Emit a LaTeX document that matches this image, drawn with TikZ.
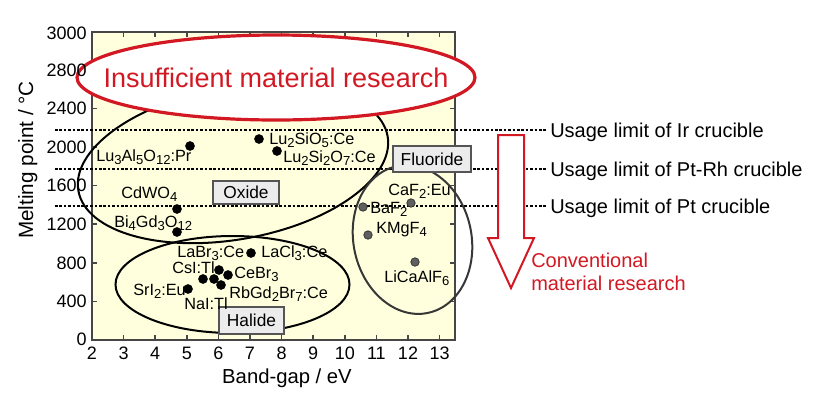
\documentclass[tikz,border=0pt]{standalone}
\usepackage{fontspec}
\setmainfont{Liberation Sans}
\newcommand{\lsub}[1]{\raisebox{-0.45ex}{\fontsize{9.8}{10}\selectfont #1}}

\begin{document}
\begin{tikzpicture}[x=0.75pt,y=0.75pt,yscale=-1,xscale=1,
    framecol/.style={color={rgb, 255:red, 70; green, 70; blue, 70 },line width=1.1pt},
    dotline/.style={line width=1.7pt,dash pattern=on 2pt off 1.3pt},
    groupline/.style={line width=1.5pt},
    redline/.style={color={rgb, 255:red, 210; green, 25; blue, 35 }},
    blackdot/.style={fill=black,draw=black},
    greydot/.style={fill={rgb, 255:red, 95; green, 95; blue, 95 },draw={rgb, 255:red, 55; green, 55; blue, 55 },line width=0.6pt},
    tagbox/.style={fill={rgb, 255:red, 236; green, 236; blue, 236 },draw={rgb, 255:red, 85; green, 85; blue, 85 },line width=1.1pt},
    matlbl/.style={anchor=base west,inner sep=0.75pt,font=\fontsize{12.2}{14}\selectfont},
    taglbl/.style={inner sep=0.75pt,font=\fontsize{13}{15}\selectfont},
    ticklbl/.style={inner sep=0.75pt,font=\fontsize{13.5}{16}\selectfont},
    notelbl/.style={anchor=base west,inner sep=0.75pt,font=\fontsize{15}{18}\selectfont}
]
\useasboundingbox (0,0) rectangle (828,405);

%Shape: Plot area
\fill [color={rgb, 255:red, 255; green, 255; blue, 222 }] (92,32) rectangle (455,340);
%Shape: Axis frame and ticks
\draw [framecol] (92,32) rectangle (455,340);
\draw [framecol] (123.6,340) -- (123.6,335) (155.2,340) -- (155.2,335) (186.8,340) -- (186.8,335) (218.4,340) -- (218.4,335) (250,340) -- (250,335) (281.6,340) -- (281.6,335) (313.2,340) -- (313.2,335) (344.8,340) -- (344.8,335) (376.4,340) -- (376.4,335) (408,340) -- (408,335) (439.6,340) -- (439.6,335) ;
\draw [framecol] (123.6,32) -- (123.6,37) (155.2,32) -- (155.2,37) (186.8,32) -- (186.8,37) (218.4,32) -- (218.4,37) (250,32) -- (250,37) (281.6,32) -- (281.6,37) (313.2,32) -- (313.2,37) (344.8,32) -- (344.8,37) (376.4,32) -- (376.4,37) (408,32) -- (408,37) (439.6,32) -- (439.6,37) ;
\draw [framecol] (92,301.4) -- (97,301.4) (92,262.8) -- (97,262.8) (92,224.2) -- (97,224.2) (92,185.6) -- (97,185.6) (92,147) -- (97,147) (92,108.4) -- (97,108.4) (92,69.8) -- (97,69.8) ;
\draw [framecol] (455,301.4) -- (450,301.4) (455,262.8) -- (450,262.8) (455,224.2) -- (450,224.2) (455,185.6) -- (450,185.6) (455,147) -- (450,147) (455,108.4) -- (450,108.4) (455,69.8) -- (450,69.8) ;

%Shape: Crucible limits
\draw [dotline] (55,130) -- (547,130) ;
\draw [dotline] (55,169) -- (547,169) ;
\draw [dotline] (55,206) -- (547,206) ;

%Shape: Ellipse (oxide)
\draw [groupline,rotate around={-10:(233,163.5)}] (233,163.5) ellipse [x radius=157, y radius=76] ;
%Shape: Ellipse (halide)
\draw [groupline] (232.5,284.5) ellipse [x radius=117, y radius=48.5] ;
%Shape: Ellipse (fluoride)
\draw [groupline,color={rgb, 255:red, 55; green, 55; blue, 55 },rotate around={-12:(412.5,239.5)}] (412.5,239.5) ellipse [x radius=59, y radius=75] ;
%Shape: Ellipse (insufficient)
\draw [redline,line width=2.4pt,fill=white] (276,77.5) ellipse [x radius=199, y radius=42.5] ;

%Shape: Data points
\draw [blackdot] (190,146) circle (4.5) ;
\draw [blackdot] (259,139) circle (4.5) ;
\draw [blackdot] (277,151) circle (4.5) ;
\draw [blackdot] (177,209) circle (4.5) ;
\draw [blackdot] (177,232) circle (4.5) ;
\draw [blackdot] (251,253) circle (4.5) ;
\draw [blackdot] (219,270) circle (4.5) ;
\draw [blackdot] (228,275) circle (4.5) ;
\draw [blackdot] (203,279) circle (4.5) ;
\draw [blackdot] (214,279) circle (4.5) ;
\draw [blackdot] (221,285) circle (4.5) ;
\draw [blackdot] (188,289) circle (4.5) ;
\draw [greydot] (411,203) circle (4.2) ;
\draw [greydot] (363,207) circle (4.2) ;
\draw [greydot] (368,235) circle (4.2) ;
\draw [greydot] (415,262) circle (4.2) ;

%Shape: Group boxes
\draw [tagbox] (213,181) rectangle (279,204) ;
\draw [tagbox] (393,146) rectangle (471,172) ;
\draw [tagbox] (219,307) rectangle (284,334) ;

%Shape: Down arrow
\draw [redline,line width=1.5pt,fill=white,line join=miter] (498,135) -- (524,135) -- (524,238) -- (534,238) -- (511,288) -- (488,238) -- (498,238) -- cycle ;

% Text Node
\draw (276,87) node [anchor=base,inner sep=0.75pt,font=\fontsize{20.25}{24}\selectfont,text={rgb, 255:red, 210; green, 25; blue, 35 }] (insuf) {Insufficient material research};
% Text Node
\draw (246,192.5) node [taglbl] (oxide) {Oxide};
% Text Node
\draw (432,159) node [taglbl] (fluoride) {Fluoride};
% Text Node
\draw (251.5,320.5) node [taglbl] (halide) {Halide};
% Text Node
\draw (95,161) node [matlbl] (luag) {Lu\lsub{3}Al\lsub{5}O\lsub{12}:Pr};
% Text Node
\draw (268,144) node [matlbl] (lso) {Lu\lsub{2}SiO\lsub{5}:Ce};
% Text Node
\draw (282,162) node [matlbl] (lps) {Lu\lsub{2}Si\lsub{2}O\lsub{7}:Ce};
% Text Node
\draw (120,198) node [matlbl] (cwo) {CdWO\lsub{4}};
% Text Node
\draw (113,227) node [matlbl] (bgo) {Bi\lsub{4}Gd\lsub{3}O\lsub{12}};
% Text Node
\draw (387,195) node [matlbl] (caf) {CaF\lsub{2}:Eu};
% Text Node
\draw (369,213) node [matlbl] (baf) {BaF\lsub{2}};
% Text Node
\draw (375,233) node [matlbl] (kmf) {KMgF\lsub{4}};
% Text Node
\draw (383,282) node [matlbl] (licaf) {LiCaAlF\lsub{6}};
% Text Node
\draw (176,257) node [matlbl] (labr) {LaBr\lsub{3}:Ce};
% Text Node
\draw (260,257) node [matlbl] (lacl) {LaCl\lsub{3}:Ce};
% Text Node
\draw (171,273) node [matlbl] (csi) {CsI:Tl};
% Text Node
\draw (233,278) node [matlbl] (cebr) {CeBr\lsub{3}};
% Text Node
\draw (132,295) node [matlbl] (sri) {SrI\lsub{2}:Eu};
% Text Node
\draw (228,298) node [matlbl] (rbgd) {RbGd\lsub{2}Br\lsub{7}:Ce};
% Text Node
\draw (183,309) node [matlbl] (nai) {NaI:Tl};
% Text Node
\draw (549,137) node [notelbl] (irlim) {Usage limit of Ir crucible};
% Text Node
\draw (549,176) node [notelbl] (ptrhlim) {Usage limit of Pt-Rh crucible};
% Text Node
\draw (549,213) node [notelbl] (ptlim) {Usage limit of Pt crucible};
% Text Node
\draw (530,267) node [notelbl,text={rgb, 255:red, 210; green, 25; blue, 35 }] (conv) {Conventional};
% Text Node
\draw (530,290) node [notelbl,text={rgb, 255:red, 210; green, 25; blue, 35 }] (convb) {material research};

% Text Node
\draw (88,33) node [ticklbl,anchor=east] (y3000) {3000};
% Text Node
\draw (88,70) node [ticklbl,anchor=east] (y2800) {2800};
% Text Node
\draw (88,108.4) node [ticklbl,anchor=east] (y2400) {2400};
% Text Node
\draw (88,147) node [ticklbl,anchor=east] (y2000) {2000};
% Text Node
\draw (88,185.6) node [ticklbl,anchor=east] (y1600) {1600};
% Text Node
\draw (88,224.2) node [ticklbl,anchor=east] (y1200) {1200};
% Text Node
\draw (88,262.8) node [ticklbl,anchor=east] (y800) {800};
% Text Node
\draw (88,301.4) node [ticklbl,anchor=east] (y400) {400};
% Text Node
\draw (88,339) node [ticklbl,anchor=east] (y0) {0};
% Text Node
\draw (92,353) node [ticklbl] (x2) {2};
% Text Node
\draw (123.6,353) node [ticklbl] (x3) {3};
% Text Node
\draw (155.2,353) node [ticklbl] (x4) {4};
% Text Node
\draw (186.8,353) node [ticklbl] (x5) {5};
% Text Node
\draw (218.4,353) node [ticklbl] (x6) {6};
% Text Node
\draw (250,353) node [ticklbl] (x7) {7};
% Text Node
\draw (281.6,353) node [ticklbl] (x8) {8};
% Text Node
\draw (313.2,353) node [ticklbl] (x9) {9};
% Text Node
\draw (344.8,353) node [ticklbl] (x10) {10};
% Text Node
\draw (376.4,353) node [ticklbl] (x11) {11};
% Text Node
\draw (408,353) node [ticklbl] (x12) {12};
% Text Node
\draw (439.6,353) node [ticklbl] (x13) {13};
% Text Node
\draw (287,383) node [anchor=base,inner sep=0.75pt,font=\fontsize{15.2}{18}\selectfont] (xtitle) {Band-gap / eV};
% Text Node
\draw (33,160) node [anchor=base,rotate=90,inner sep=0.75pt,font=\fontsize{15.5}{18}\selectfont] (ytitle) {Melting point / °C};

\end{tikzpicture}
\end{document}
